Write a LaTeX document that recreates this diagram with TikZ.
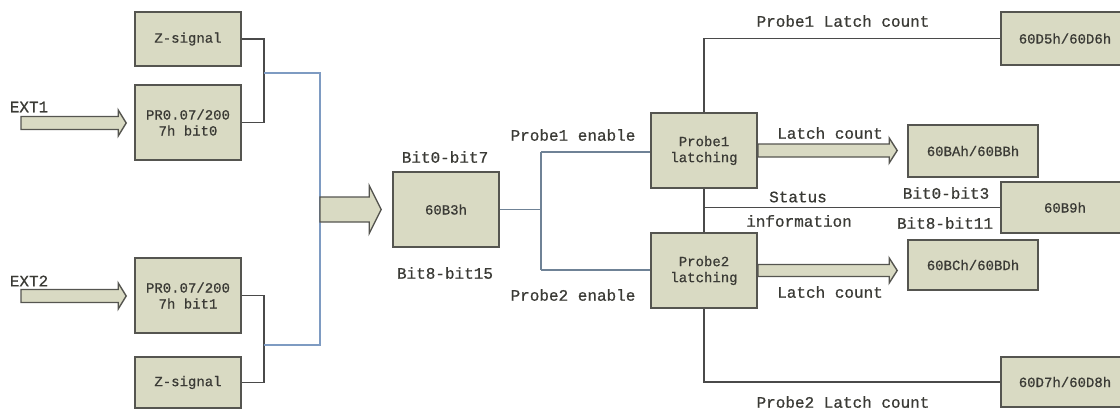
\documentclass[tikz,border=0pt]{standalone}
\usepackage{fontspec}
\newfontfamily\mfont{Liberation Mono}[FakeBold=0.7]
\usetikzlibrary{calc}
\definecolor{boxfill}{HTML}{D9DAC3}
\definecolor{boxline}{HTML}{555550}
\definecolor{txt}{HTML}{3A3A35}
\definecolor{lblue}{HTML}{7E9BC2}
\definecolor{sblue}{HTML}{6F8296}
\definecolor{dgray}{HTML}{4A4A4A}
\newcommand\fatarr[5]{%
  \draw[fatarrow] let \p1=(#1), \p2=(#2) in
    (\x1,\y1+#3) -- (\x2-#5,\y1+#3) -- (\x2-#5,\y1+#4) -- (\x2,\y1)
    -- (\x2-#5,\y1-#4) -- (\x2-#5,\y1-#3) -- (\x1,\y1-#3) -- cycle;}
\begin{document}
\begin{tikzpicture}[x=1pt,y=-1pt,
  box/.style={draw=boxline,line width=1.6pt,fill=boxfill,text=txt,
    font=\mfont\fontsize{14}{16}\selectfont,align=center,inner sep=0pt},
  lbl/.style={text=txt,font=\mfont\fontsize{16}{18}\selectfont,inner sep=0pt},
  gline/.style={draw=dgray,line width=1.6pt},
  bline/.style={draw=lblue,line width=1.4pt},
  sline/.style={draw=sblue,line width=1.6pt},
  fatarrow/.style={draw=boxline,line width=1.4pt,fill=boxfill,line join=miter}]
\useasboundingbox (0,0) rectangle (1120,410);
% left boxes
\node[box,minimum width=106,minimum height=54] (z1) at (188,39) {Z-signal};
\node[box,minimum width=106,minimum height=75] (pr1) at (188,122.5) {PR0.07/200\\7h bit0};
\node[box,minimum width=106,minimum height=75] (pr2) at (188,295.5) {PR0.07/200\\7h bit1};
\node[box,minimum width=106,minimum height=51] (z2) at (188,382.5) {Z-signal};
\node[box,minimum width=106,minimum height=75] (b3) at (446,209.5) {60B3h};
\node[box,minimum width=106,minimum height=75] (p1) at (704,150.5) {Probe1\\latching};
\node[box,minimum width=106,minimum height=75] (p2) at (704,270.5) {Probe2\\latching};
\node[box,minimum width=128,minimum height=53] (d5) at (1065,38.5) {60D5h/60D6h};
\node[box,minimum width=128,minimum height=51] (b9) at (1065,207.5) {60B9h};
\node[box,minimum width=128,minimum height=50] (d7) at (1065,382) {60D7h/60D8h};
\node[box,minimum width=130,minimum height=52] (ba) at (973,151) {60BAh/60BBh};
\node[box,minimum width=130,minimum height=50] (bc) at (973,265) {60BCh/60BDh};
% labels
\node[lbl] (ext1) at (29,107) {EXT1};
\node[lbl] (ext2) at (29,281) {EXT2};
\node[lbl] (l07) at (445,157) {Bit0-bit7};
\node[lbl] (l815) at (445,273) {Bit8-bit15};
\node[lbl] (pe1) at (573,135) {Probe1 enable};
\node[lbl] (pe2) at (573,295) {Probe2 enable};
\node[lbl] (plc1) at (843,21) {Probe1 Latch count};
\node[lbl] (plc2) at (843,402) {Probe2 Latch count};
\node[lbl] (lc1) at (830,133) {Latch count};
\node[lbl] (lc2) at (830,292) {Latch count};
\node[lbl] (st) at (798,197) {Status};
\node[lbl] (inf) at (799,221) {information};
\node[lbl] (b03) at (946,193) {Bit0-bit3};
\node[lbl] (b811) at (945,223) {Bit8-bit11};
% coordinates
\coordinate (e1s) at (21,123);
\coordinate (e2s) at (21,296);
\coordinate (j1) at (264,73);
\coordinate (j2) at (264,345);
\coordinate (bas) at (320,209.5);
\coordinate (fork) at (541,209.5);
% left connectors
\draw[gline] (z1.east) -- (264,39) -- (264,122.5) -- (pr1.east);
\draw[gline] (pr2.east) -- (264,295.5) -- (264,382.5) -- (z2.east);
\draw[bline] (j1) -- (320,73) -- (320,345) -- (j2);
% fat arrows
\fatarr{e1s}{$(pr1.west)+(-8,0)$}{6.5}{13}{8}
\fatarr{e2s}{$(pr2.west)+(-8,0)$}{6.5}{13}{8}
\fatarr{bas}{$(b3.west)+(-11,0)$}{12.5}{24}{12}
\fatarr{p1.east}{$(ba.west)+(-10,0)$}{6.5}{12.5}{8}
\fatarr{p2.east}{$(bc.west)+(-10,0)$}{6}{12.5}{8}
% middle fork
\draw[sline] (b3.east) -- (fork);
\draw[sline] (541,152) -- (541,270);
\draw[sline] (541,152) -- (p1.west |- 0,152);
\draw[sline] (541,270) -- (p2.west |- 0,270);
% right connectors
\draw[gline] (p1.north) -- (704,38.5) -- (d5.west);
\draw[gline] (p1.south) -- (p2.north);
\draw[gline] (704,207.5) -- (b9.west);
\draw[gline] (p2.south) -- (704,382) -- (d7.west);
\end{tikzpicture}
\end{document}
